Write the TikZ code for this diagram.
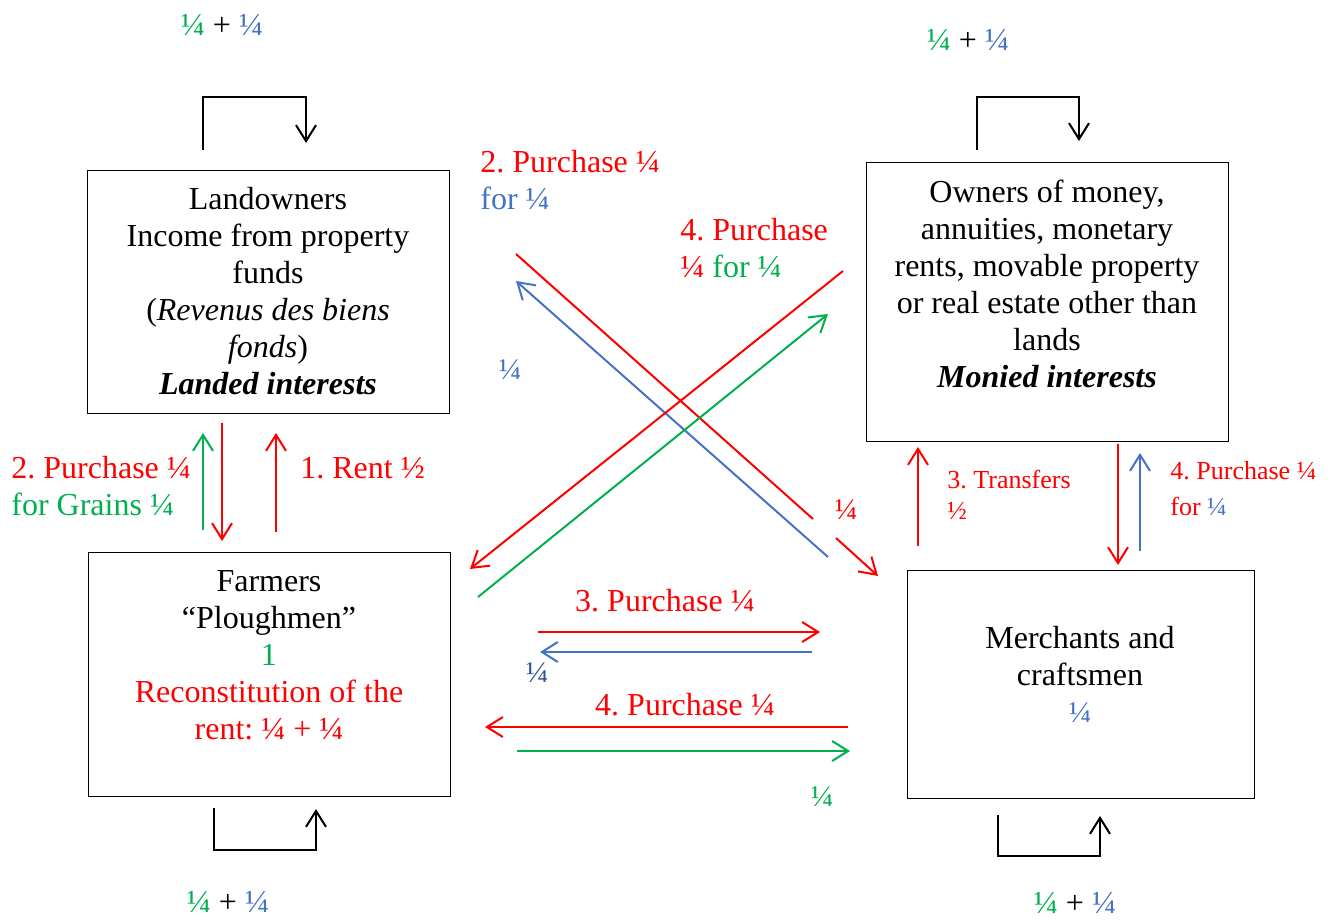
\documentclass[tikz,border=0pt]{standalone}
\usepackage{fontspec}
\setmainfont{Liberation Serif}
\usetikzlibrary{arrows.meta}
\frenchspacing
\definecolor{myred}{RGB}{255,0,0}
\definecolor{mygreen}{RGB}{0,176,80}
\definecolor{myblue}{RGB}{68,114,196}
\definecolor{mydblue}{RGB}{47,85,151}
\tikzset{
  box/.style={draw=black, line width=0.5pt, minimum width=#1, inner sep=0pt},
  txt/.style={inner sep=0pt, align=center, font=\fontsize{16}{18.5}\selectfont},
  ltxt/.style={inner sep=0pt, align=left, anchor=west, font=\fontsize{16}{18.5}\selectfont},
  stxt/.style={inner sep=0pt, align=left, anchor=west, font=\fontsize{13}{16}\selectfont},
  frac/.style={inner sep=0pt, font=\fontsize{15}{17}\selectfont},
  qq/.style={inner sep=0pt, font=\fontsize{16}{18}\selectfont},
  fl/.style={line width=1pt, -{Straight Barb[length=8pt,width=10pt,line width=1pt]}},
  pl/.style={line width=1pt},
}
\begin{document}
\begin{tikzpicture}[x=0.5pt,y=-0.5pt]
\useasboundingbox (0,0) rectangle (1330,921);
% boxes
\node[box=181pt, minimum height=121.5pt] (land) at (268,291.5) {};
\node[box=181pt, minimum height=139.5pt] (own) at (1047,301.5) {};
\node[box=181pt, minimum height=122pt] (farm) at (269,674) {};
\node[box=173.5pt, minimum height=114pt] (merch) at (1080.5,684) {};
% box texts
\node[txt] (landt) at (268,291.5) {Landowners\\Income from property\\funds\\(\textit{Revenus des biens}\\\textit{fonds})\\\textbf{\textit{Landed interests}}};
\node[txt] (ownt) at (1047,283.5) {Owners of money,\\annuities, monetary\\rents, movable property\\or real estate other than\\lands\\\textbf{\textit{Monied interests}}};
\node[txt] (farmt) at (269,655.5) {Farmers\\``Ploughmen''\\\textcolor{mygreen}{1}\\\textcolor{myred}{Reconstitution of the}\\\textcolor{myred}{rent: ¼ + ¼}};
\node[txt] (mercht) at (1080,656) {Merchants and\\craftsmen};
\node[frac, text=myblue] (merchf) at (1080,713) {¼};
% loops
\coordinate (tl1) at (203,150); \coordinate (tl2) at (203,97); \coordinate (tl3) at (306,97); \coordinate (tl4) at (306,143);
\draw[fl] (tl1) -- (tl2) -- (tl3) -- (tl4);
\coordinate (tr1) at (977,150); \coordinate (tr2) at (977,97); \coordinate (tr3) at (1079,97); \coordinate (tr4) at (1079,141);
\draw[fl] (tr1) -- (tr2) -- (tr3) -- (tr4);
\coordinate (bl1) at (214,808); \coordinate (bl2) at (214,850); \coordinate (bl3) at (316,850); \coordinate (bl4) at (316,809);
\draw[fl] (bl1) -- (bl2) -- (bl3) -- (bl4);
\coordinate (br1) at (998,815); \coordinate (br2) at (998,856); \coordinate (br3) at (1100,856); \coordinate (br4) at (1100,816);
\draw[fl] (br1) -- (br2) -- (br3) -- (br4);
\node[qq] (tlq) at (222,25) {\textcolor{mygreen}{¼} + \textcolor{myblue}{¼}};
\node[qq] (trq) at (968,40) {\textcolor{mygreen}{¼} + \textcolor{myblue}{¼}};
\node[qq] (blq) at (228,902) {\textcolor{mygreen}{¼} + \textcolor{myblue}{¼}};
\node[qq] (brq) at (1075,903) {\textcolor{mygreen}{¼} + \textcolor{myblue}{¼}};
% vertical arrows left
\coordinate (a1s) at (203,530); \coordinate (a1e) at (203,433);
\draw[fl, mygreen] (a1s) -- (a1e);
\coordinate (a2s) at (222,423); \coordinate (a2e) at (222,541);
\draw[fl, myred] (a2s) -- (a2e);
\coordinate (a3s) at (276,532); \coordinate (a3e) at (276,433);
\draw[fl, myred] (a3s) -- (a3e);
\node[ltxt] (lab1) at (11,486.5) {\textcolor{myred}{2. Purchase ¼}\\\textcolor{mygreen}{for Grains ¼}};
\node[ltxt, text=myred] (lab2) at (300,468) {1. Rent ½};
% vertical arrows right
\coordinate (b1s) at (918,546); \coordinate (b1e) at (918,447);
\draw[fl, myred] (b1s) -- (b1e);
\coordinate (b2s) at (1118,444); \coordinate (b2e) at (1118,565);
\draw[fl, myred] (b2s) -- (b2e);
\coordinate (b3s) at (1140,551); \coordinate (b3e) at (1140,453);
\draw[fl, myblue] (b3s) -- (b3e);
\node[stxt, text=myred, font=\fontsize{13}{15.5}\selectfont] (lab3) at (947,494.5) {3. Transfers\\½};
\node[stxt, font=\fontsize{13}{18}\selectfont] (lab4) at (1170,489) {\textcolor{myred}{4. Purchase ¼}\\\textcolor{myred}{for} \textcolor{myblue}{¼}};
% diagonals
\coordinate (d1s) at (516,254); \coordinate (d1m) at (813,519); \coordinate (d1n) at (836,538); \coordinate (d1e) at (878,576);
\draw[pl, myred] (d1s) -- (d1m);
\draw[fl, myred] (d1n) -- (d1e);
\coordinate (d2s) at (828,557); \coordinate (d2e) at (516,281);
\draw[fl, myblue] (d2s) -- (d2e);
\coordinate (d3s) at (843,271); \coordinate (d3e) at (470,569);
\draw[fl, myred] (d3s) -- (d3e);
\coordinate (d4s) at (478,597); \coordinate (d4e) at (828,314);
\draw[fl, mygreen] (d4s) -- (d4e);
\node[ltxt] (lab5) at (480,180.5) {\textcolor{myred}{2. Purchase ¼}\\\textcolor{myblue}{for ¼}};
\node[ltxt] (lab6) at (680,248.5) {\textcolor{myred}{4. Purchase}\\\textcolor{myred}{¼} \textcolor{mygreen}{for ¼}};
\node[frac, text=myblue] (q1) at (510,370) {¼};
\node[frac, text=myred] (q2) at (846,510) {¼};
% horizontal arrows
\coordinate (h1s) at (538,632); \coordinate (h1e) at (820,632);
\draw[fl, myred] (h1s) -- (h1e);
\coordinate (h2s) at (812,652); \coordinate (h2e) at (540,652);
\draw[fl, myblue] (h2s) -- (h2e);
\coordinate (h3s) at (848,727); \coordinate (h3e) at (485,727);
\draw[fl, myred] (h3s) -- (h3e);
\coordinate (h4s) at (517,751); \coordinate (h4e) at (850,751);
\draw[fl, mygreen] (h4s) -- (h4e);
\node[txt, text=myred] (lab7) at (665,601) {3. Purchase ¼};
\node[txt, text=myred] (lab8) at (685,705) {4. Purchase ¼};
\node[frac, text=mydblue] (q3) at (537,673) {¼};
\node[frac, text=mygreen] (q4) at (822,797) {¼};
\end{tikzpicture}
\end{document}
